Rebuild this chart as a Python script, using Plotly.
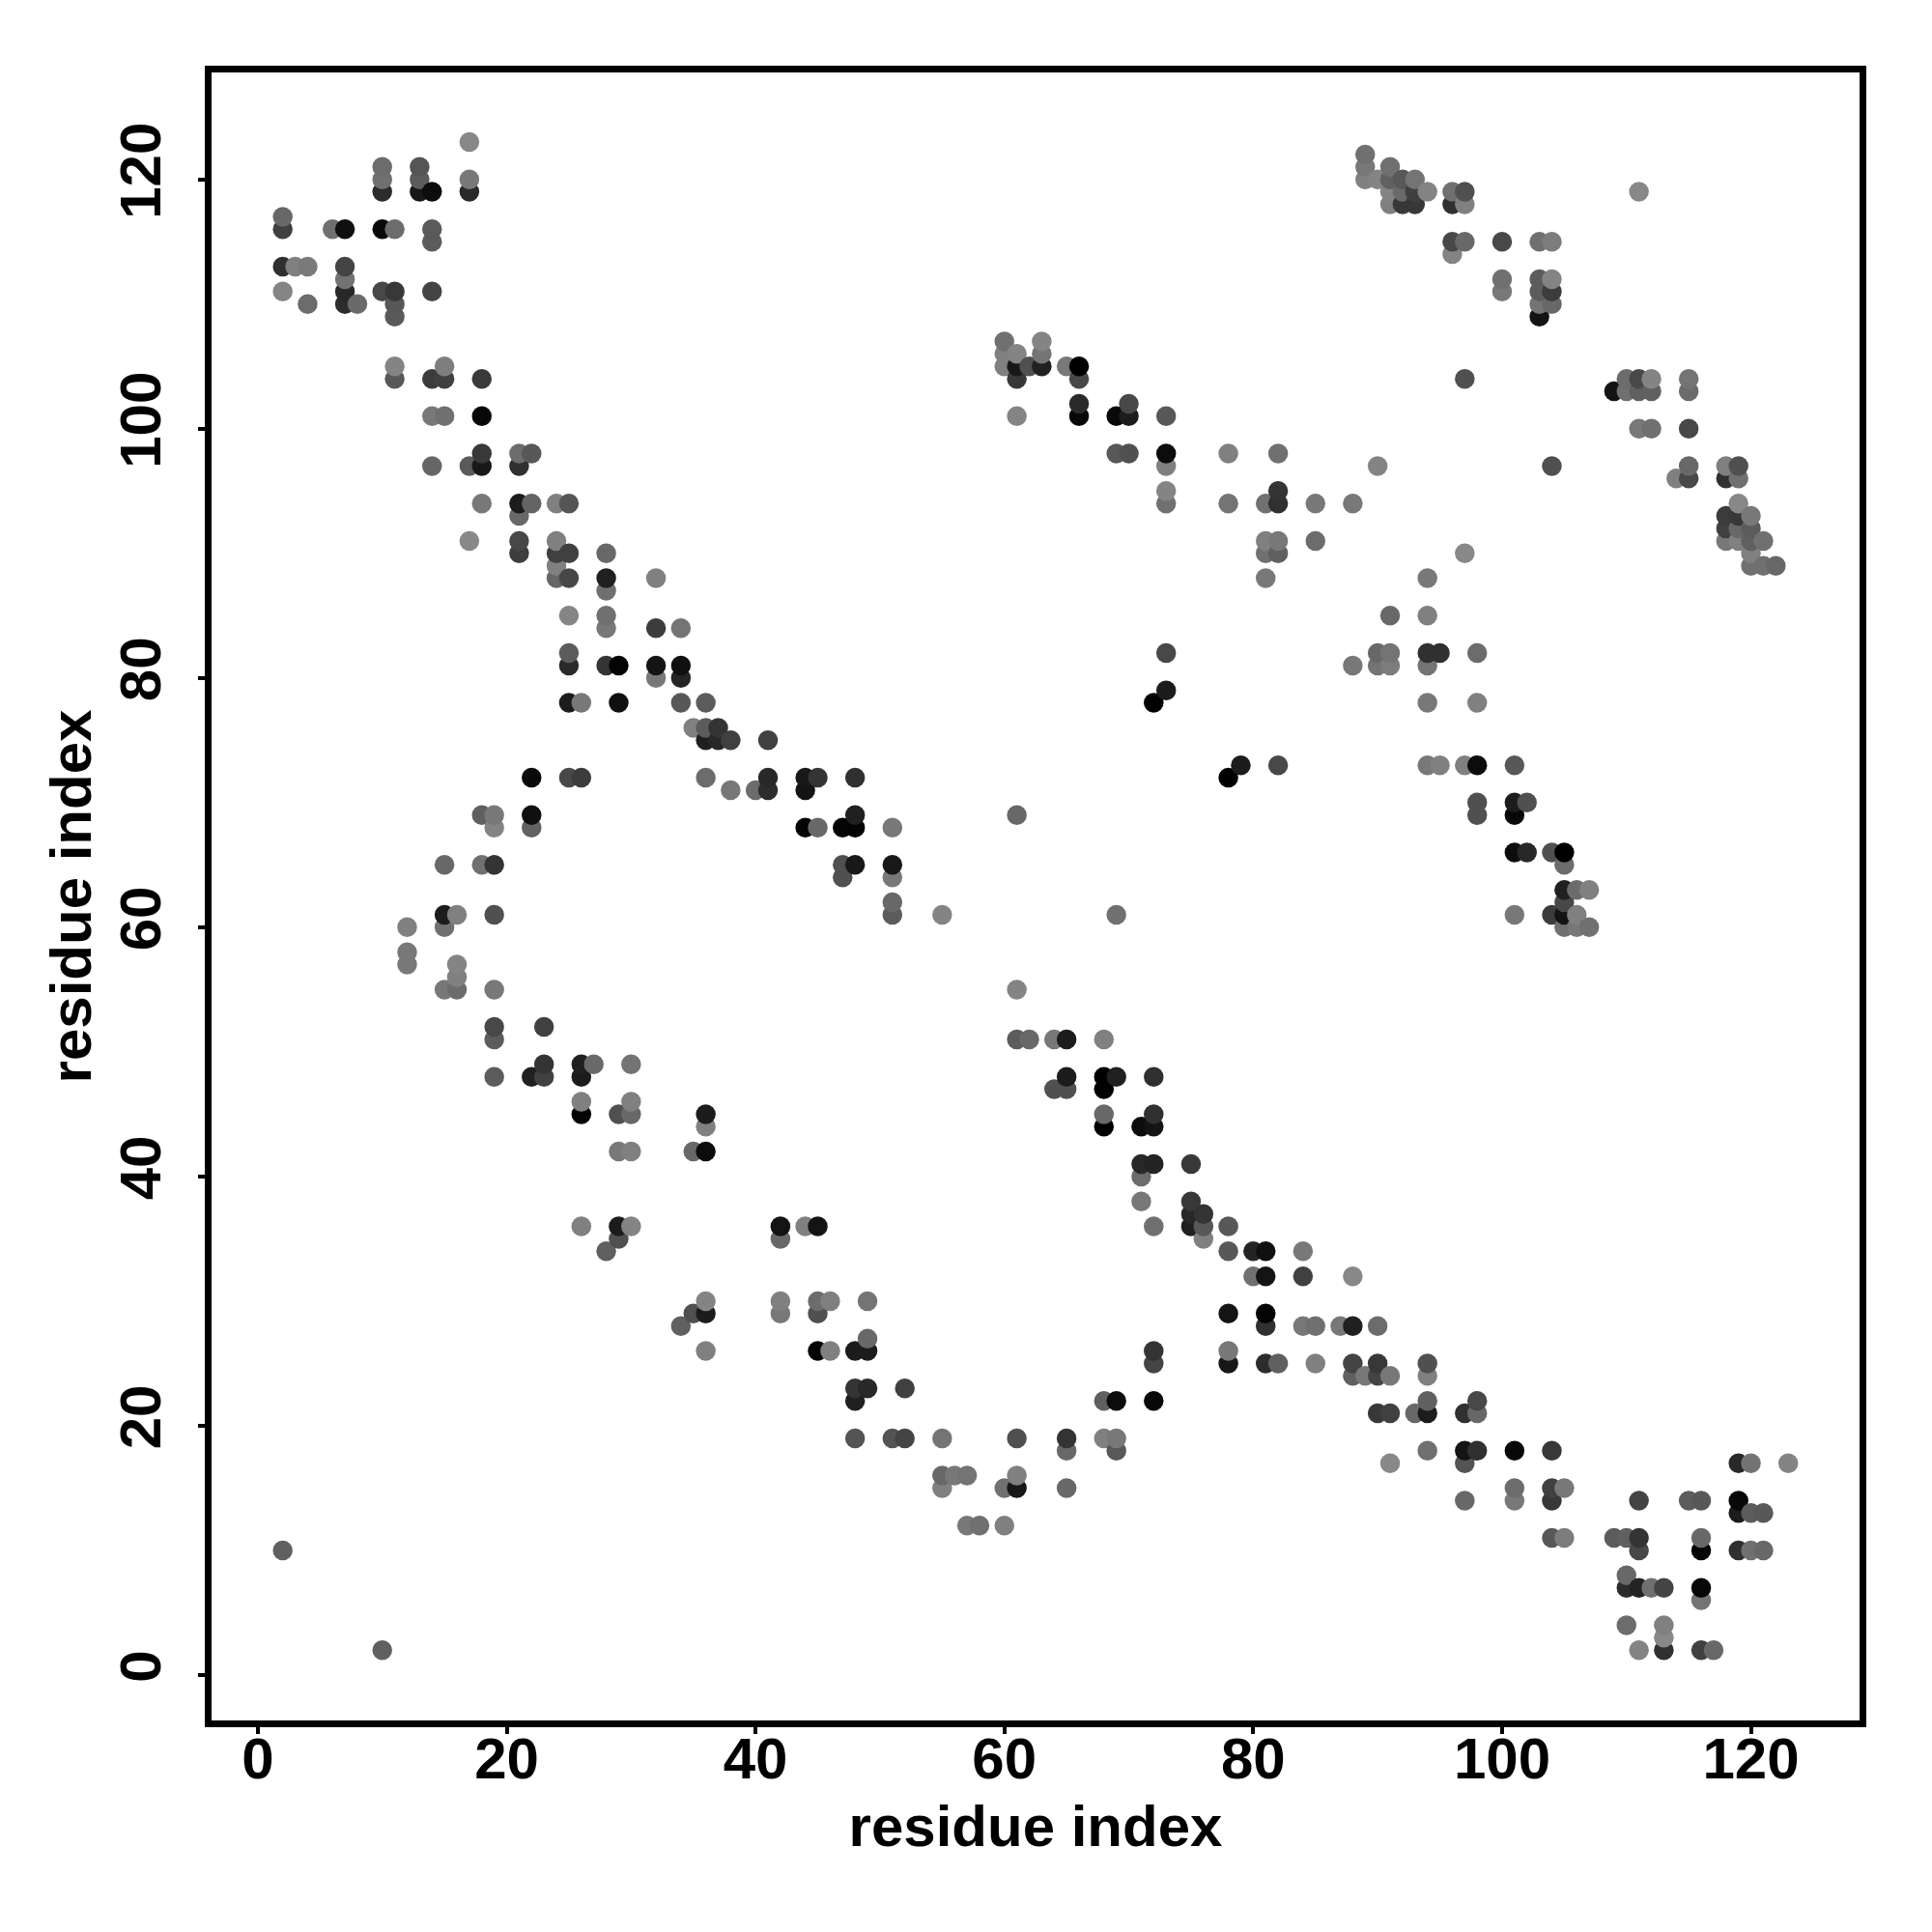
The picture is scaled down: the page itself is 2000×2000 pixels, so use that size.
import numpy as np
import plotly.graph_objects as go

TICKS = [0, 20, 40, 60, 80, 100, 120]
AXIS_TITLE = "residue index"

# contact map, block by block; shade = grey level of the dot
res_i = [
 17, 10,10,10, 13,13,13,14, 17,17, 2,2, 6,7,10,11, 14,14,
 2,3,4,7,7,7,7,8, 2,4, 10,11,11,11, 14,
 11,11, 14,15,15,18, 14,15,18, 18,18,17,14, 21,22,21,
 18,21,22,21,24,25, 17,21,21,24,24,25,24,24,25,28,28,28,32,
 25,28,28,32,34,
 25,25,28,29,32,32,34,34, 25,26,29,34,36, 35,36,37,36,37,38,41,
 22,25,26,36,38,40,41,41, 18,19,19,22,22, 15,18,19, 15,16,19,12,15,
 12,12,16,16,15,16,19, 19,19,23, 23,22,23,26,26,27,30,19,
 26,26,29,30,30,36,36, 29,30,35,36,
 26,29,30,29,28, 36,35,36,34,36,2,10,
 60,60,60,61,61,61,62,63,63,63,65,66,66,
 61,66,66,69,70,70,73, 69,70,73,73,78,82,
 73,73,78,81,82,82,85, 81,82,81,82,85,81,
 89,89,89,90, 91,91,91,91, 92,92,92, 93,93,93, 94, 96,97,96,97,
 96,97,96, 100, 100,100, 103,104, 103,104,103,104,103,104,103,
 111, 97, 109,110,110,111,111,112,112, 115,115, 111,112,115,
 90, 104, 115,115,114, 118,119,118,119, 88, 119,
 118,119,120, 118,119,120, 118,119,120,121, 120, 120,121,122,
 97, 94, 91,94,
 73,73,72, 78,79,82, 44,45,44,48,
 44,45,47,48,48,51, 47,48,47,51,51, 51,51,55,69,61,
 61,61,62,64,65,68, 65,64,65,68,69,68,72,
 68,68,71,72,72, 71,72,71,75,
 42,42,44,45, 42,42,45,45,46,49, 45,46,48,49,49, 48,49,48,52,
 48,51,52,55, 55,56,57,55, 60,61,61, 61,65,65,65, 57,58,60,
 68,69,72, 68,69,69, 72,72,
 71,75,76,75,75,76,76,72,78, 78,80,81,84, 80,81,84,
 78,81,81,84,85,87, 78,78,81,82,85,
 88,88,90, 88,88,89,90,90,91,94,94,
 90,91,93,94,94,97,98,98, 94,97,97,98,101,104,91,
 101,101,104,105,104,97, 104,105, 109,110,111,111, 111,115,116,
 116,116, 119,120,123, 119,119,120,121, 119,120,121,
 110,110,111,112,113, 116,116, 110,113,113,113,111,116,117,
 88,90,91,90,91,94,95,94,98, 94,98, 94,95,97,98,101,
 98,98,101,101,102, 101,102,104,105,105, 105,106,107,105,
 101,104,105,106,105,106,107,
]
res_j = [
 123, 121,120,119, 121,120,119,119, 120,119, 117,116, 116,116,116,116, 116,115,
 113,113,113,113,112,111,110,110, 111,110, 111,111,110,109, 111,
 105,104, 104,105,104,104, 101,101,101, 98,97,97,97, 98,98,97,
 94,94,94,93,94,94, 91,91,90,91,90,90,89,88,88,90,88,87,88,
 85,85,84,84,84,
 82,81,81,81,81,80,81,80, 78,78,78,78,78, 76,76,76,75,75,75,75,
 72,72,72,72,71,71,72,71, 69,69,68,69,68, 65,65,65, 61,61,61,60,60,
 58,57,57,56,55,55,55, 52,51,52, 49,48,48,49,48,49,49,48,
 46,45,45,46,45,45,44, 42,42,42,42,
 36,36,36,35,34, 30,29,29,28,26,10,2,
 107,106,105,106,105,104,105,107,106,105,105,105,104,
 101,102,101,101,102,101,101, 98,98,98,97,98,98,
 95,94,94,94,95,94,94, 91,91,90,90,91,88,
 122,121,120,120, 121,120,119,118, 120,119,118, 120,119,118, 119, 119,119,118,118,
 115,115,114, 115, 112,111, 115,115, 112,112,111,111,110,110,109,
 119, 104, 103,104,103,104,103,104,103, 104,103, 100,100,100,
 97, 97, 97,96,96, 97,97,96,96, 94, 94,
 93,93,93, 92,92,92, 91,91,91,91, 90, 89,89,89,
 90, 88, 85,85,
 82,79,78, 72,73,73, 72,72,71,72,
 68,68,68,69,68,68, 65,65,64,65,64, 62,61,61,61,69,
 55,51,51,51,51,51, 48,47,47,48,48,47,48,
 45,44,44,45,44, 41,41,40,41,
 36,35,36,36, 30,29,30,29,30,30, 26,26,26,27,26, 23,23,22,23,
 19,19,19,19, 16,16,16,15, 15,16,15, 19,19,18,15, 12,12,12,
 22,22,22, 19,19,18, 26,25,
 38,38,37,37,36,36,35,36,36, 34,34,34,34, 32,32,32,
 29,29,28,28,28,28, 26,25,25,25,25,
 32,28,28, 25,24,24,25,24,24,25,24,
 21,21,21,22,21,21,22,21, 18,18,17,18,18,18,17,
 15,14,15,15,14,14, 11,11, 11,11,11,10, 14,14,14,
 11,10, 17,17,17, 14,13,13,13, 10,10,10,
 8,7,7,7,7, 7,6, 4,4,3,2,2,2,2,
 81,82,82,81,81,82,82,81,82, 78,78, 73,73,73,73,73,
 70,69,70,69,70, 66,66,66,66,65, 63,63,63,62,
 61,61,61,61,60,60,60,
]
shade = [
 0x88, 0x6c,0x70,0x2c, 0x55,0x5c,0x18,0x0c, 0x78,0x2a, 0x68,0x40, 0x70,0x10,0x08,0x6c, 0x5a,0x5c,
 0x30,0x80,0x7a,0x44,0x72,0x28,0x2c,0x6a, 0x85,0x6c, 0x48,0x38,0x58,0x5a, 0x44,
 0x84,0x58, 0x3c,0x7e,0x40,0x3a, 0x78,0x70,0x08, 0x38,0x18,0x5a,0x66, 0x6c,0x58,0x30,
 0x78,0x1c,0x64,0x68,0x80,0x55, 0x88,0x48,0x3e,0x80,0x40,0x40,0x80,0x66,0x48,0x68,0x20,0x70,0x80,
 0x85,0x70,0x78,0x3c,0x74,
 0x5c,0x2a,0x34,0x04,0x14,0x78,0x10,0x24, 0x1c,0x78,0x10,0x58,0x5c, 0x80,0x5c,0x34,0x20,0x28,0x40,0x40,
 0x0a,0x48,0x3c,0x6c,0x78,0x6c,0x28,0x2c, 0x60,0x78,0x84,0x10,0x62, 0x68,0x70,0x34, 0x1c,0x80,0x50,0x80,0x70,
 0x78,0x78,0x84,0x80,0x78,0x6c,0x78, 0x48,0x5c,0x40, 0x34,0x20,0x40,0x20,0x1c,0x6a,0x74,0x5c,
 0x80,0x04,0x50,0x80,0x68,0x1c,0x80, 0x78,0x80,0x68,0x0c,
 0x80,0x1c,0x84,0x50,0x60, 0x84,0x50,0x1c,0x60,0x80,0x60,0x60,
 0x70,0x80,0x80,0x84,0x18,0x38,0x50,0x84,0x74,0x20,0x78,0x00,0x48,
 0x84,0x2a,0x08,0x08,0x48,0x1c,0x58, 0x58,0x50,0x0c,0x80,0x80,0x70,
 0x84,0x70,0x74,0x70,0x34,0x30,0x78, 0x80,0x78,0x70,0x60,0x6c,0x78,
 0x70,0x78,0x80,0x84, 0x70,0x60,0x84,0x80, 0x58,0x6a,0x38, 0x74,0x40,0x38, 0x84, 0x70,0x50,0x30,0x80,
 0x48,0x68,0x84, 0x48, 0x70,0x78, 0x70,0x7c, 0x5c,0x84,0x5c,0x3c,0x74,0x68,0x14,
 0x88, 0x50, 0x14,0x6c,0x70,0x48,0x60,0x84,0x60, 0x74,0x6c, 0x78,0x70,0x48,
 0x84, 0x50, 0x68,0x48,0x80, 0x80,0x50,0x30,0x70, 0x78, 0x88,
 0x3c,0x38,0x78, 0x40,0x68,0x5c, 0x78,0x80,0x60,0x70, 0x80, 0x70,0x70,0x68,
 0x88, 0x78, 0x68,0x80,
 0x48,0x1c,0x00, 0x00,0x1c,0x48, 0x18,0x34,0x14,0x30,
 0x04,0x68,0x04,0x20,0x04,0x78, 0x50,0x18,0x50,0x18,0x78, 0x68,0x5c,0x84,0x70,0x68,
 0x84,0x5c,0x68,0x78,0x1c,0x80, 0x1c,0x50,0x50,0x00,0x20,0x00,0x30,
 0x68,0x00,0x0c,0x30,0x14, 0x28,0x24,0x6c,0x38,
 0x14,0x68,0x80,0x14, 0x80,0x78,0x6c,0x50,0x80,0x74, 0x04,0x80,0x1c,0x68,0x1c, 0x34,0x28,0x20,0x40,
 0x54,0x54,0x44,0x74, 0x68,0x78,0x74,0x80, 0x70,0x80,0x18, 0x50,0x34,0x68,0x68, 0x78,0x70,0x80,
 0x60,0x0c,0x08, 0x80,0x78,0x58, 0x34,0x44,
 0x78,0x38,0x34,0x28,0x20,0x58,0x80,0x70,0x58, 0x58,0x24,0x10,0x78, 0x70,0x14,0x40,
 0x14,0x04,0x30,0x78,0x70,0x78, 0x78,0x18,0x2c,0x60,0x80,
 0x88,0x20,0x6c, 0x44,0x60,0x78,0x38,0x44,0x78,0x50,0x80,
 0x38,0x40,0x68,0x60,0x1c,0x30,0x48,0x68, 0x70,0x14,0x54,0x30,0x08,0x38,0x88,
 0x6c,0x78,0x40,0x78,0x38,0x68, 0x58,0x7c, 0x5c,0x60,0x34,0x48, 0x44,0x5c,0x58,
 0x68,0x04, 0x28,0x74,0x84, 0x08,0x1c,0x5c,0x58, 0x30,0x70,0x68,
 0x68,0x2c,0x24,0x70,0x44, 0x08,0x74, 0x6c,0x80,0x88,0x30,0x84,0x40,0x68,
 0x78,0x68,0x74,0x74,0x7c,0x30,0x30,0x74,0x6c, 0x78,0x80, 0x78,0x80,0x80,0x0c,0x58,
 0x50,0x50,0x1c,0x08,0x50, 0x0c,0x28,0x50,0x00,0x6c, 0x20,0x6c,0x80,0x48,
 0x78,0x3c,0x14,0x80,0x70,0x78,0x70,
]

assert len(res_i) == len(res_j) == len(shade), (len(res_i), len(res_j), len(shade))

order = np.lexsort((res_j, res_i))
xs = np.array(res_i)[order]
ys = np.array(res_j)[order]
colors = [f"rgb({g},{g},{g})" for g in np.array(shade)[order]]

fig = go.Figure(go.Scatter(
    x=xs, y=ys, mode="markers",
    marker=dict(size=20.5, color=colors, line=dict(width=0)),
    showlegend=False, hoverinfo="skip",
))

font = "Liberation Sans"
axis = dict(
    tickmode="array", tickvals=TICKS, ticktext=[str(t) for t in TICKS],
    ticks="outside", ticklen=7, tickwidth=3.5, tickcolor="black",
    showline=True, linecolor="black", linewidth=6.5, mirror=True,
    showgrid=False, zeroline=False,
    tickfont=dict(family=font, size=60, color="black", weight="bold"),
    automargin=False,
)
fig.update_xaxes(**axis, range=[-3.72, 128.73], ticklabelstandoff=-26,
                 title=dict(text=AXIS_TITLE, standoff=19,
                            font=dict(family=font, size=60, color="black", weight="bold")))
fig.update_yaxes(**axis, range=[-3.64, 128.58], tickangle=-90, ticklabelstandoff=15,
                 title=dict(text=AXIS_TITLE, standoff=1,
                            font=dict(family=font, size=60, color="black", weight="bold")))
fig.update_layout(
    width=1992, height=1992,
    margin=dict(l=210.7, r=75.4, t=67, b=219.3, pad=0),
    paper_bgcolor="white", plot_bgcolor="white",
)
fig.write_html("out.html")
